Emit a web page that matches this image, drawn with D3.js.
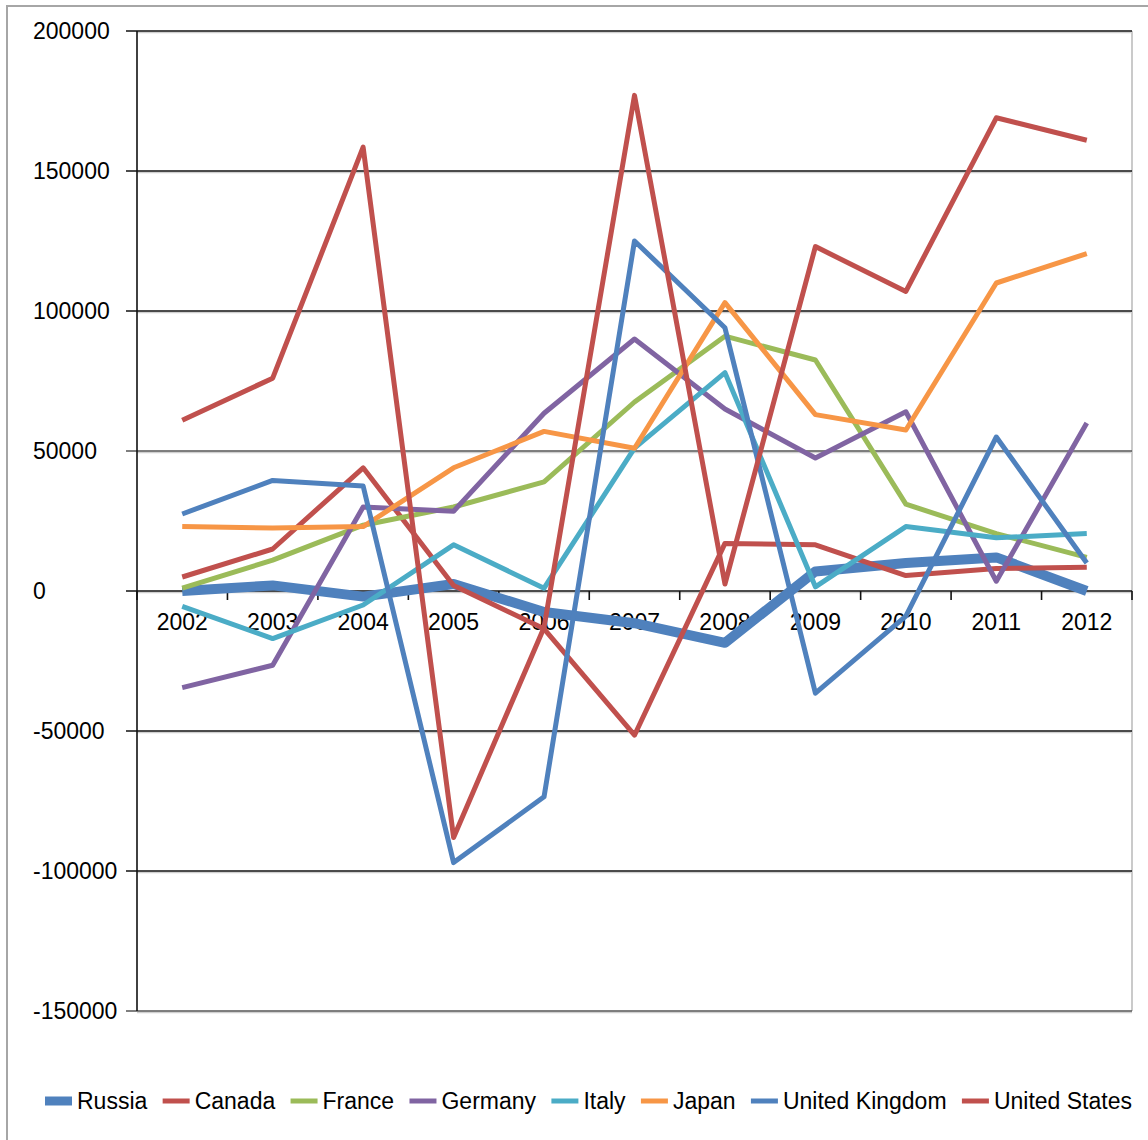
<!DOCTYPE html>
<html>
<head>
<meta charset="utf-8">
<script src="https://cdn.jsdelivr.net/npm/d3@7"></script>
<style>
  html, body { margin: 0; padding: 0; background: #fff; }
  svg { display: block; }
  text { font-family: "Liberation Sans", Arial, sans-serif; fill: #000; }
</style>
</head>
<body>
<svg id="chart" width="1148" height="1140"></svg>
<script>
// ---- data ----
const years = ["2002","2003","2004","2005","2006","2007","2008","2009","2010","2011","2012"];
const seriesNames = ["Russia","Canada","France","Germany","Italy","Japan","United Kingdom","United States"];
const russia  = [0, 2000, -2000, 2500, -7500, -11500, -18500, 7000, 10000, 12000, 0];
const canada  = [5000, 15000, 44000, 2000, -13500, -51500, 17000, 16500, 5500, 8000, 8500];
const france  = [1000, 11000, 23500, 30000, 39000, 67500, 91000, 82500, 31000, 20500, 12000];
const germany = [-34500, -26500, 30000, 28500, 63500, 90000, 65000, 47500, 64000, 3500, 60000];
const italy   = [-5500, -17000, -5000, 16500, 1000, 51000, 78000, 1500, 23000, 19000, 20500];
const japan   = [23000, 22500, 23000, 44000, 57000, 51000, 103000, 63000, 57500, 110000, 120500];
const uk      = [27500, 39500, 37500, -97000, -73500, 125000, 94000, -36500, -9000, 55000, 10000];
const us      = [61000, 76000, 158500, -88000, -13000, 177000, 2500, 123000, 107000, 169000, 161000];
const yTicks  = [200000, 150000, 100000, 50000, 0, -50000, -100000, -150000];

const seriesValues = [russia, canada, france, germany, italy, japan, uk, us];
const colors = ["#4F81BD","#C0504D","#9BBB59","#8064A2","#4BACC6","#F79646","#4F81BD","#C0504D"];
const widths = [10, 5, 5, 5, 5, 5, 5, 5];

// ---- layout ----
const svg = d3.select("#chart");
const plot = { left: 137, right: 1132, top: 31, bottom: 1011 };

// outer chart frame (cropped at right/bottom)
svg.append("path")
  .attr("d", "M7,1142 L7,6 L1150,6")
  .attr("fill", "none").attr("stroke", "#a6a6a6").attr("stroke-width", 2);

const x = d3.scaleBand().domain(years).range([plot.left, plot.right]).paddingInner(0).paddingOuter(0);
const xc = d => x(d) + x.bandwidth() / 2;
const y = d3.scaleLinear().domain([-150000, 200000]).range([plot.bottom, plot.top]);

// right plot border
svg.append("line")
  .attr("x1", plot.right).attr("x2", plot.right)
  .attr("y1", plot.top).attr("y2", plot.bottom)
  .attr("stroke", "#b8b8b8").attr("stroke-width", 1.5);

// gridlines (with faint shadow)
const grid = svg.append("g");
grid.selectAll("line.shadow").data(yTicks).join("line")
  .attr("class", "shadow")
  .attr("x1", plot.left).attr("x2", plot.right)
  .attr("y1", d => y(d) + 1.5).attr("y2", d => y(d) + 1.5)
  .attr("stroke", "#d0d0d0").attr("stroke-width", 1.5);
grid.selectAll("line.g").data(yTicks).join("line")
  .attr("class", "g")
  .attr("x1", plot.left - 11).attr("x2", plot.right)
  .attr("y1", d => y(d)).attr("y2", d => y(d))
  .attr("stroke", d => d === 50000 || d === -150000 ? "#555" : "#111")
  .attr("stroke-width", 1.6);

// y axis line
svg.append("line")
  .attr("x1", plot.left).attr("x2", plot.left)
  .attr("y1", plot.top).attr("y2", plot.bottom)
  .attr("stroke", "#111").attr("stroke-width", 1.6);

// y labels (left aligned)
svg.append("g").selectAll("text").data(yTicks).join("text")
  .attr("x", 33).attr("y", d => y(d))
  .attr("dy", "0.36em")
  .attr("font-size", 23)
  .attr("text-anchor", "start")
  .text(d => d);

// x axis: tick marks at category boundaries on the zero line
const boundaries = years.map(d => x(d)).concat([plot.right]);
svg.append("g").selectAll("line").data(boundaries).join("line")
  .attr("x1", d => d).attr("x2", d => d)
  .attr("y1", y(0)).attr("y2", y(0) + 9)
  .attr("stroke", "#111").attr("stroke-width", 1.6);

// x labels
svg.append("g").selectAll("text").data(years).join("text")
  .attr("x", d => xc(d)).attr("y", y(0) + 39)
  .attr("font-size", 23)
  .attr("text-anchor", "middle")
  .text(d => d);

// series lines
const line = d3.line().x((d, i) => xc(years[i])).y(d => y(d));
const lines = svg.append("g");
seriesValues.forEach((vals, si) => {
  lines.append("path")
    .datum(vals)
    .attr("d", line)
    .attr("fill", "none")
    .attr("stroke", colors[si])
    .attr("stroke-width", widths[si])
    .attr("stroke-linejoin", "round")
    .attr("stroke-linecap", "butt");
});

// legend
const legend = svg.append("g");
const legY = 1101;
const markerW = 27, markerGap = 5;
const items = seriesNames.map((name, i) => {
  const g = legend.append("g");
  g.append("line")
    .attr("x1", 0).attr("x2", markerW)
    .attr("y1", legY).attr("y2", legY)
    .attr("stroke", colors[i]).attr("stroke-width", i === 0 ? 9 : 5);
  const t = g.append("text")
    .attr("x", markerW + markerGap).attr("y", legY)
    .attr("dy", "0.36em").attr("font-size", 23)
    .text(name);
  return { g, w: markerW + markerGap + t.node().getComputedTextLength() };
});
const legStart = 45, legEnd = 1132;
const totalW = d3.sum(items, d => d.w);
const gap = (legEnd - legStart - totalW) / (items.length - 1);
let cx = legStart;
items.forEach(it => {
  it.g.attr("transform", `translate(${cx},0)`);
  cx += it.w + gap;
});
</script>
</body>
</html>
